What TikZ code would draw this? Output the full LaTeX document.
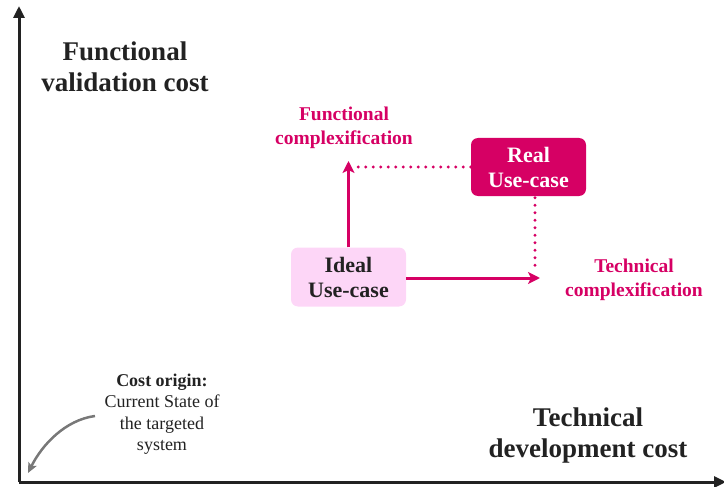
\documentclass[tikz,border=0pt]{standalone}
\usepackage{fontspec}
\setmainfont{Liberation Serif}[BoldFont={Liberation Serif Bold}]
\newfontfamily\tnrbold{Liberation Serif Bold}
\usetikzlibrary{arrows.meta}
\definecolor{mag}{RGB}{214,0,100}
\definecolor{lightmag}{RGB}{253,214,247}
\definecolor{axisgray}{RGB}{120,120,120}
\definecolor{ink}{RGB}{34,34,34}
\tikzset{
  axisline/.style={line width=3pt, draw=ink, -{Triangle[length=12pt,width=11pt]}},
  magarrow/.style={line width=3pt, draw=mag, -{Stealth[length=12pt,width=12pt,inset=3pt]}},
  magdots/.style={line width=3.2pt, draw=mag, line cap=round, dash pattern=on 0pt off 7.5pt},
  casebox/.style={rounded corners=7pt, minimum width=115pt, minimum height=59pt, align=center, inner sep=0pt},
  bigtitle/.style={font=\tnrbold\fontsize{27}{31}\selectfont, text=ink, align=center},
  maglabel/.style={font=\tnrbold\fontsize{19.5}{24}\selectfont, text=mag, align=center},
  boxfont/.style={font=\tnrbold\fontsize{22}{25}\selectfont},
}
\begin{document}
\begin{tikzpicture}[x=1pt,y=-1pt]
\useasboundingbox (0,0) rectangle (724,487);
% axes
\coordinate (O) at (19,482);
\coordinate (Ytop) at (19,6);
\coordinate (Xend) at (726,482);
\draw[axisline] (O) -- (Ytop);
\draw[axisline] (O) -- (Xend);
% axis titles
\node[bigtitle] (ytitle) at (125,67) {Functional\\validation cost};
\node[bigtitle] (xtitle) at (588,436) {Technical\\development cost};
% boxes
\node[casebox, fill=lightmag, text=ink, boxfont] (ideal) at (348.5,277) {Ideal\\Use-case};
\node[casebox, fill=mag, text=white, boxfont, minimum height=58pt] (real) at (528.5,167) {Real\\Use-case};
% labels
\node[maglabel] (funclab) at (344,128) {Functional\\complexification};
\node[maglabel] (techlab) at (634,280) {Technical\\complexification};
% arrows
\coordinate (upend) at (348.5,161);
\coordinate (rightend) at (540,278);
\draw[magarrow] (ideal.north) -- (upend);
\draw[magarrow] (ideal.east |- rightend) -- (rightend);
\draw[magdots] (real.west) -- (356,167);
\draw[magdots] ([yshift=6pt]real.south -| 535,0) -- (535,271);
% cost origin
\node[font=\fontsize{18}{21.5}\selectfont, text=ink, align=center] (origin) at (162,414) {{\tnrbold Cost origin:}\\Current State of\\the targeted\\system};
\coordinate (origtip) at (28,473);
\draw[line width=2.5pt, draw=axisgray, -{Stealth[length=10pt,width=9pt,inset=2pt]}] (95,416) .. controls (65,420) and (42,445) .. (origtip);
\end{tikzpicture}
\end{document}
